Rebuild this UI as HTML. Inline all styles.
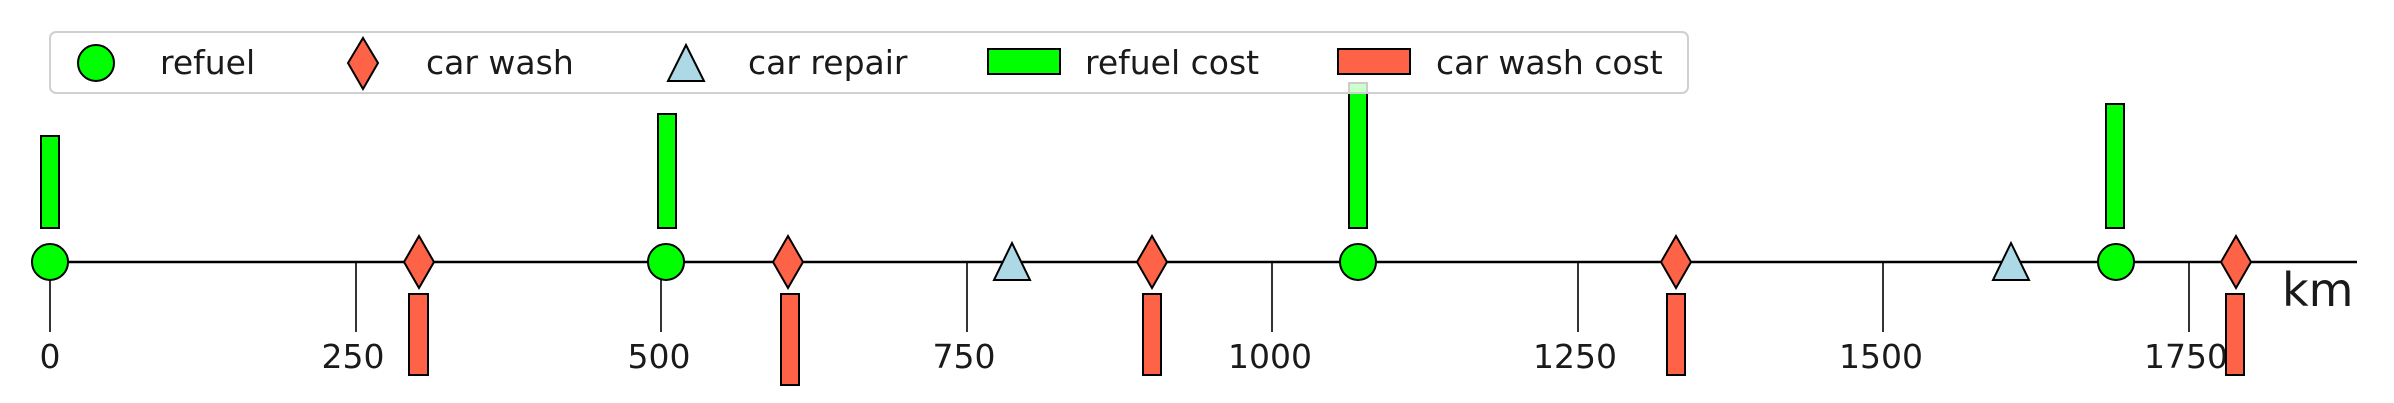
<!DOCTYPE html>
<html><head><meta charset="utf-8"><style>
html,body{margin:0;padding:0;background:#fff;}
svg{display:block;}
text{font-family:"DejaVu Sans","Liberation Sans",sans-serif;fill:#1a1a1a;}
</style></head><body>
<svg width="2394" height="403" viewBox="0 0 2394 403" xmlns="http://www.w3.org/2000/svg">
<g stroke="#000" stroke-width="1.6">
<line x1="50" y1="262" x2="50" y2="332"/>
<line x1="356" y1="262" x2="356" y2="332"/>
<line x1="661" y1="262" x2="661" y2="332"/>
<line x1="967" y1="262" x2="967" y2="332"/>
<line x1="1272" y1="262" x2="1272" y2="332"/>
<line x1="1578" y1="262" x2="1578" y2="332"/>
<line x1="1883" y1="262" x2="1883" y2="332"/>
<line x1="2189" y1="262" x2="2189" y2="332"/>
</g>
<g font-size="33" text-anchor="middle">
<text x="50" y="368">0</text>
<text x="353" y="368">250</text>
<text x="659" y="368">500</text>
<text x="964" y="368">750</text>
<text x="1270" y="368">1000</text>
<text x="1575" y="368">1250</text>
<text x="1881" y="368">1500</text>
<text x="2186" y="368">1750</text>
</g>
<text x="2282" y="306" font-size="46">km</text>
<line x1="35" y1="262" x2="2357" y2="262" stroke="#000" stroke-width="2.5"/>
<g fill="#00ff00" stroke="#000" stroke-width="2">
<rect x="41" y="136" width="18" height="92"/>
<rect x="658" y="114" width="18" height="114"/>
<rect x="1349" y="83" width="18" height="145"/>
<rect x="2106" y="104" width="18" height="124"/>
</g>
<g fill="#ff6347" stroke="#000" stroke-width="2">
<rect x="409" y="294" width="19" height="81"/>
<rect x="781" y="294" width="18" height="91"/>
<rect x="1143" y="294" width="18" height="81"/>
<rect x="1667" y="294" width="18" height="81"/>
<rect x="2226" y="294" width="18" height="81"/>
</g>
<g fill="#00ff00" stroke="#000" stroke-width="2">
<ellipse cx="50" cy="262" rx="18" ry="18"/>
<ellipse cx="666" cy="262" rx="18" ry="18"/>
<ellipse cx="1358" cy="262" rx="18" ry="18"/>
<ellipse cx="2116" cy="262" rx="18" ry="18"/>
</g>
<g fill="#ff6347" stroke="#000" stroke-width="2">
<polygon points="419,236 434,262 419,288 404,262"/>
<polygon points="788,236 803,262 788,288 773,262"/>
<polygon points="1152,236 1167,262 1152,288 1137,262"/>
<polygon points="1676,236 1691,262 1676,288 1661,262"/>
<polygon points="2236,236 2251,262 2236,288 2221,262"/>
</g>
<g fill="#add8e6" stroke="#000" stroke-width="2">
<polygon points="1012,243 1030,280 994,280"/>
<polygon points="2011,243 2029,280 1993,280"/>
</g>
<rect x="50" y="32" width="1638" height="61" rx="6" ry="6" fill="#fff" fill-opacity="0.8" stroke="#d0d0d0" stroke-width="2"/>
<ellipse cx="96" cy="63" rx="18" ry="18" fill="#00ff00" stroke="#000" stroke-width="2"/>
<text x="160" y="74" font-size="33">refuel</text>
<polygon points="363,38 378,63 363,89 348,63" fill="#ff6347" stroke="#000" stroke-width="2"/>
<text x="426" y="74" font-size="33">car wash</text>
<polygon points="686,45 704,81 668,81" fill="#add8e6" stroke="#000" stroke-width="2"/>
<text x="748" y="74" font-size="33">car repair</text>
<rect x="988" y="49" width="72" height="25" fill="#00ff00" stroke="#000" stroke-width="2"/>
<text x="1085" y="74" font-size="33">refuel cost</text>
<rect x="1338" y="49" width="72" height="25" fill="#ff6347" stroke="#000" stroke-width="2"/>
<text x="1436" y="74" font-size="33">car wash cost</text>
</svg>
</body></html>
